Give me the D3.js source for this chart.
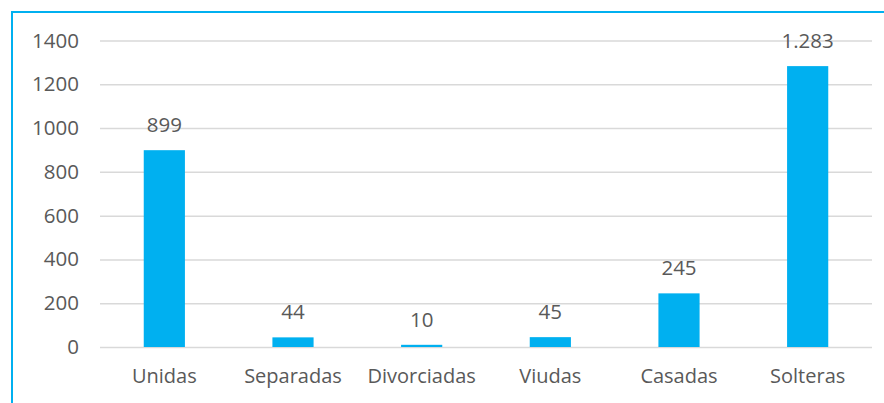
<!DOCTYPE html>
<html>
<head>
<meta charset="utf-8">
<script src="https://cdn.jsdelivr.net/npm/d3@7"></script>
<style>
  body { margin: 0; background: #fff; }
  svg { display: block; }
  text { font-family: "Open Sans", sans-serif; fill: #595959; }
</style>
</head>
<body>
<svg class="canvas" width="884" height="403"></svg>
<script>
const categories = ['Unidas', 'Separadas', 'Divorciadas', 'Viudas', 'Casadas', 'Solteras'];
const values = [899, 44, 10, 45, 245, 1283];
const yTicks = [0, 200, 400, 600, 800, 1000, 1200, 1400];

const svg = d3.select('.canvas');
const width = 884;
const height = 403;
const padding = [40.5, 12, 56, 100]; // top, right, bottom, left

// frame (only left and top edges are visible)
svg.append('path')
  .attr('d', `M12,${height} L12,12 L${width},12`)
  .attr('fill', 'none')
  .attr('stroke', '#00b0f0')
  .attr('stroke-width', 2);

const xScale = d3.scaleBand()
  .domain(categories)
  .range([padding[3], width - padding[1]])
  .paddingInner(0.68)
  .paddingOuter(0.34);

const yScale = d3.scaleLinear()
  .domain([0, 1400])
  .range([height - padding[2], padding[0]]);

// gridlines
const yAxis = d3.axisLeft(yScale)
  .tickValues(yTicks)
  .tickSize(-(width - padding[1] - padding[3]))
  .tickPadding(21)
  .tickFormat(d3.format('d'));
const gy = svg.append('g')
  .attr('id', 'y-axis')
  .attr('transform', `translate(${padding[3]}, 0)`)
  .call(yAxis);
gy.select('.domain').remove();
gy.selectAll('line').attr('stroke', '#d9d9d9').attr('stroke-width', 1.5);
gy.selectAll('text').style('font-size', '20.5px').attr('fill', '#595959');

// bars
svg.selectAll('rect.bar')
  .data(values)
  .enter()
  .append('rect')
  .attr('class', 'bar')
  .attr('x', (d, i) => xScale(categories[i]))
  .attr('y', (d) => yScale(d))
  .attr('width', xScale.bandwidth())
  .attr('height', (d) => yScale(0) - yScale(d))
  .attr('fill', '#00b0f0');

// value labels
const formatVal = (v) => v >= 1000 ? d3.format(',')(v).replace(',', '.') : String(v);
svg.selectAll('text.val')
  .data(values)
  .enter()
  .append('text')
  .attr('class', 'val')
  .attr('x', (d, i) => xScale(categories[i]) + xScale.bandwidth() / 2)
  .attr('y', (d) => yScale(d) - 18)
  .attr('text-anchor', 'middle')
  .style('font-size', '20.5px')
  .text((d) => formatVal(d));

// category axis
const xAxis = d3.axisBottom(xScale).tickSize(0).tickPadding(22);
const gx = svg.append('g')
  .attr('id', 'x-axis')
  .attr('transform', `translate(0, ${yScale(0)})`)
  .call(xAxis);
gx.select('.domain').remove();
gx.selectAll('text').style('font-size', '20px').attr('fill', '#595959');
</script>
</body>
</html>
